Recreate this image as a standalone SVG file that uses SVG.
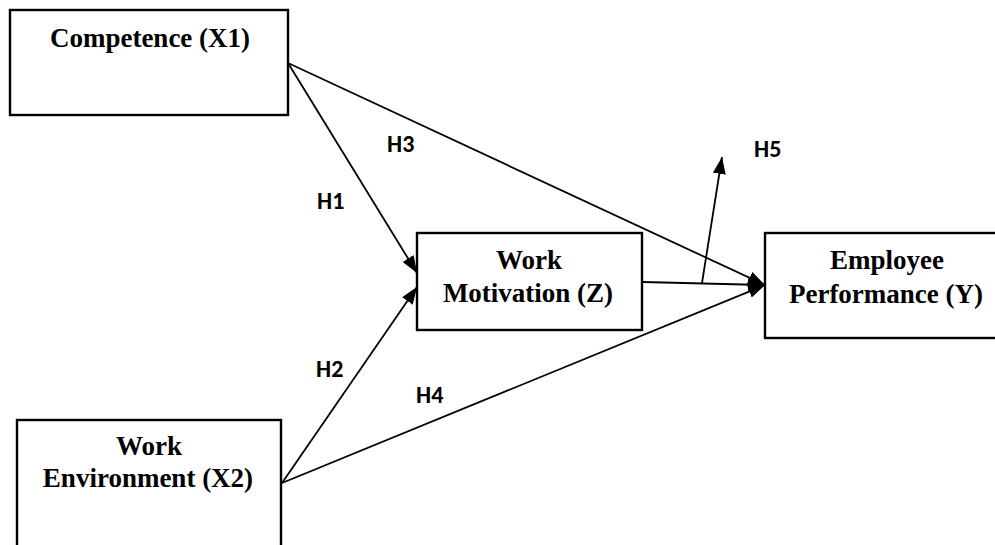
<svg xmlns="http://www.w3.org/2000/svg" width="995" height="545" viewBox="0 0 995 545">
<style>
.box{fill:#fff;stroke:#000;stroke-width:2.4}
.t{font-family:"Liberation Serif","Times New Roman",serif;font-weight:bold;font-size:27px;fill:#000;text-anchor:middle}
.h{font-family:Calibri,"Liberation Sans",Arial,sans-serif;font-weight:bold;font-size:24px;fill:#000}
.c{stroke:#000;stroke-width:1.8;fill:none}
</style>
<defs>
<marker id="ah" markerUnits="userSpaceOnUse" markerWidth="17" markerHeight="13" refX="17" refY="6.5" orient="auto">
<path d="M0,0 L17,6.5 L0,13 z" fill="#000"/>
</marker>
</defs>
<rect width="995" height="545" fill="#fff"/>
<g id="connectors">
<line class="c" x1="288" y1="63" x2="417" y2="273" marker-end="url(#ah)"/>
<line class="c" x1="282" y1="483" x2="417" y2="287" marker-end="url(#ah)"/>
<line class="c" x1="288" y1="63" x2="765" y2="285" marker-end="url(#ah)"/>
<line class="c" x1="282" y1="483" x2="765" y2="285" marker-end="url(#ah)"/>
<line class="c" x1="643" y1="282" x2="765" y2="285" marker-end="url(#ah)"/>
<line class="c" x1="702" y1="283" x2="722" y2="157" marker-end="url(#ah)"/>
<text class="h" x="317" y="209">H1</text>
<text class="h" x="316" y="377">H2</text>
<text class="h" x="387" y="152">H3</text>
<text class="h" x="416" y="403">H4</text>
<text class="h" x="754" y="157">H5</text>
</g>
<g id="competence">
<rect class="box" x="10" y="10" width="278" height="105"/>
<text class="t" x="150" y="47">Competence (X1)</text>
</g>
<g id="work-environment">
<rect class="box" x="17" y="420" width="264" height="140"/>
<text class="t" x="149" y="455">Work</text>
<text class="t" x="148" y="487">Environment (X2)</text>
</g>
<g id="work-motivation">
<rect class="box" x="417" y="233" width="225" height="97"/>
<text class="t" x="529" y="269">Work</text>
<text class="t" x="528" y="302">Motivation (Z)</text>
</g>
<g id="employee-performance">
<rect class="box" x="765" y="233" width="245" height="105"/>
<text class="t" x="887" y="269">Employee</text>
<text class="t" x="886" y="303">Performance (Y)</text>
</g>
</svg>
